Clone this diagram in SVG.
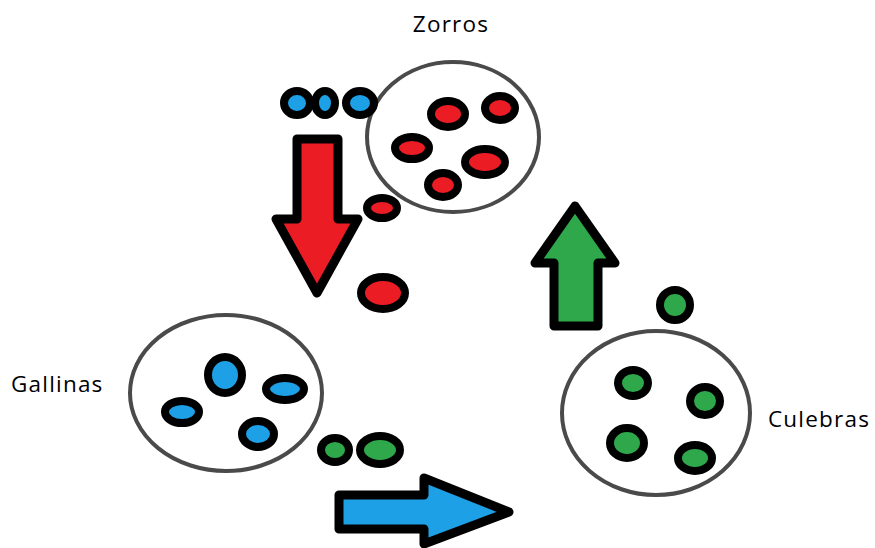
<svg xmlns="http://www.w3.org/2000/svg" width="875" height="548" viewBox="0 0 875 548">
  <style>
    .ring { fill: none; stroke: #4a4a4a; stroke-width: 4; }
    .dot { stroke: #000; stroke-width: 8; }
    .red { fill: #ec1c24; }
    .blue { fill: #1ea0e6; }
    .green { fill: #2ea84a; }
    .arrow { stroke: #000; stroke-width: 9; stroke-linejoin: round; }
    .label { font-family: "Open Sans", "Liberation Sans", sans-serif; font-size: 22.5px; fill: #000; letter-spacing: 1.2px; }
  </style>

  <!-- Zorros population -->
  <g id="zorros">
    <ellipse class="ring" cx="453" cy="137" rx="86" ry="75"/>
    <ellipse class="dot red" cx="448" cy="114" rx="17" ry="13"/>
    <ellipse class="dot red" cx="500" cy="108" rx="15" ry="12"/>
    <ellipse class="dot red" cx="412" cy="148" rx="17" ry="11"/>
    <ellipse class="dot red" cx="485" cy="162" rx="20" ry="13"/>
    <ellipse class="dot red" cx="443" cy="185" rx="15" ry="12"/>
    <text class="label" x="451" y="32" text-anchor="middle">Zorros</text>
  </g>

  <!-- Gallinas population -->
  <g id="gallinas">
    <ellipse class="ring" cx="226" cy="393" rx="96" ry="78"/>
    <ellipse class="dot blue" cx="225" cy="375" rx="17" ry="18"/>
    <ellipse class="dot blue" cx="285" cy="389" rx="19" ry="11"/>
    <ellipse class="dot blue" cx="182" cy="412" rx="17" ry="11"/>
    <ellipse class="dot blue" cx="258" cy="434" rx="16" ry="13"/>
    <text class="label" x="11" y="392">Gallinas</text>
  </g>

  <!-- Culebras population -->
  <g id="culebras">
    <ellipse class="ring" cx="656" cy="413" rx="94" ry="82"/>
    <ellipse class="dot green" cx="633" cy="383" rx="15" ry="13"/>
    <ellipse class="dot green" cx="705" cy="401" rx="15" ry="14"/>
    <ellipse class="dot green" cx="627" cy="443" rx="17" ry="15"/>
    <ellipse class="dot green" cx="695" cy="458" rx="17" ry="13"/>
    <text class="label" x="768" y="427">Culebras</text>
  </g>

  <!-- Individuals moving between populations -->
  <g id="flow-dots">
    <ellipse class="dot blue" cx="297" cy="103" rx="13" ry="12"/>
    <ellipse class="dot blue" cx="325" cy="103" rx="10" ry="12"/>
    <ellipse class="dot blue" cx="360" cy="103" rx="14" ry="12"/>
    <ellipse class="dot red" cx="382" cy="208" rx="15" ry="10"/>
    <ellipse class="dot red" cx="383" cy="293" rx="22" ry="16"/>
    <ellipse class="dot green" cx="335" cy="450" rx="14" ry="12"/>
    <ellipse class="dot green" cx="380" cy="450" rx="20" ry="14"/>
    <ellipse class="dot green" cx="675" cy="305" rx="15" ry="15"/>
  </g>

  <!-- Connectors: block arrows -->
  <g id="connectors">
    <path class="arrow red" d="M297 139 H338 V219 H358 L317 293 L276 219 H297 Z"/>
    <path class="arrow green" d="M554 326 V263 H535 L575 206 L615 263 H598 V326 Z"/>
    <path class="arrow blue" d="M339 495 H424 V478 L509 512 L424 544 V529 H339 Z"/>
  </g>
</svg>
